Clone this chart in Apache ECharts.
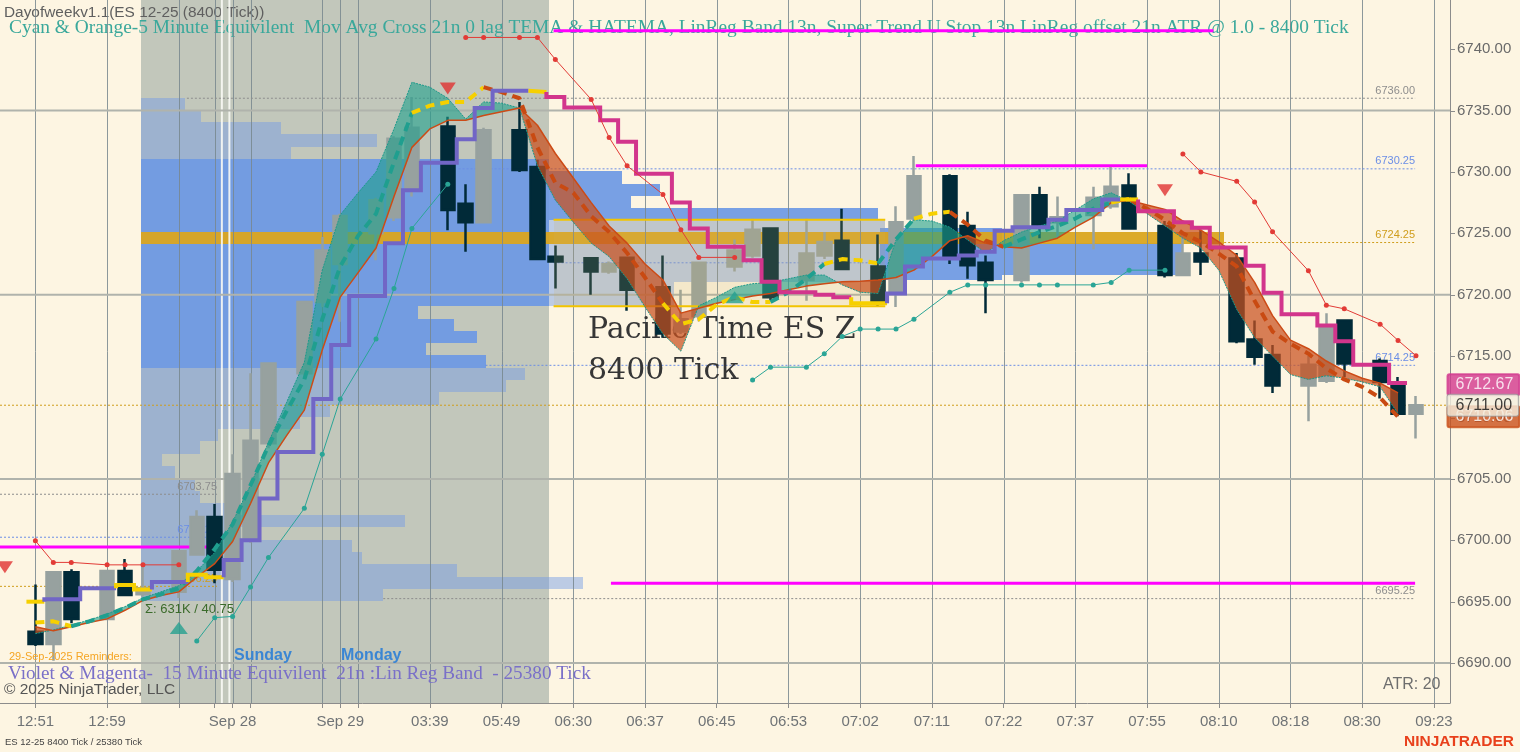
<!DOCTYPE html>
<html><head><meta charset="utf-8">
<script src="https://cdn.jsdelivr.net/npm/echarts@6/dist/echarts.min.js"></script>
<style>html,body{margin:0;padding:0;background:#fdf5e2;}#c{width:1520px;height:752px;}</style>
</head><body><div id="c"></div>
<script>
// ---------- axes ----------
const X_MIN = -1.974, X_MAX = 78.897, Y_MIN = 6686.75, Y_MAX = 6744.0;
const xTickSlots = [0,4,8,10,11,12,16,17,18,22,26,30,34,38,42,46,50,54,58,62,66,70,74,78];
const xLabelSlots = [0,4,11,17,22,26,30,34,38,42,46,50,54,58,62,66,70,74,78];
const xLabelTexts = ['12:51','12:59','Sep 28','Sep 29','03:39','05:49','06:30','06:37','06:45','06:53','07:02','07:11','07:22','07:37','07:55','08:10','08:18','08:30','09:23'];
const yTickValues = [6690,6695,6700,6705,6710,6715,6720,6725,6730,6735,6740];
const yMajorLines = [6690,6705,6720,6735];
const sessionShade = [5.89, 28.64];
const sessionBreaks = [10.4, 10.82];

// ---------- candles [slot, open, close, low, high] ----------
const candles = [
 [0,6692.55,6691.55,6691.4,6696.4],[1,6691.55,6697.4,6690.2,6697.5],[2,6697.4,6693.6,6693.25,6697.65],
 [4,6693.6,6697.5,6693.5,6697.6],[5,6697.5,6695.55,6695.5,6698.47],[6,6695.6,6696.1,6695.4,6698.1],
 [8,6695.8,6699.1,6695.3,6699.2],[9,6698.85,6701.9,6698.8,6702.45],[10,6701.9,6697.6,6696.5,6702.95],
 [11,6696.85,6705.4,6696.6,6707.0],[12,6700.0,6708.1,6699.8,6713.6],[13,6707.9,6714.4,6707.5,6714.5],
 [15,6713.6,6719.4,6713.4,6719.5],[16,6719.4,6723.6,6719.0,6724.7],[17,6722.5,6726.4,6717.8,6726.6],
 [19,6725.0,6727.7,6722.8,6727.9],[20,6726.3,6732.7,6726.0,6732.9],[21,6728.7,6733.6,6728.0,6736.1],
 [23,6733.7,6726.9,6725.25,6734.5],[24,6727.4,6725.9,6723.5,6729.0],[25,6725.9,6733.4,6725.8,6733.6],
 [27,6733.4,6730.15,6730.0,6735.7],[28,6730.4,6722.9,6722.8,6731.0],[29,6723.1,6722.7,6720.5,6724.0],
 [31,6722.96,6721.9,6720.0,6723.0],[32,6721.9,6722.5,6721.7,6722.7],[33,6723.0,6720.4,6718.7,6723.1],
 [35,6720.6,6716.85,6716.5,6723.2],[36,6717.0,6718.0,6716.8,6720.4],[37,6718.25,6722.6,6718.0,6722.7],
 [39,6722.3,6723.6,6721.9,6724.5],[40,6723.2,6725.3,6723.0,6726.2],[41,6725.4,6719.8,6719.5,6725.5],
 [43,6721.2,6723.35,6719.5,6726.2],[44,6723.2,6724.3,6722.9,6725.1],[45,6724.4,6722.1,6722.0,6727.0],
 [47,6722.3,6719.4,6719.0,6724.9],[48,6720.1,6725.9,6719.0,6727.2],[49,6726.2,6729.65,6726.0,6731.3],
 [51,6729.65,6723.0,6722.5,6729.8],[52,6725.6,6722.4,6721.3,6726.75],[53,6722.6,6721.2,6718.5,6723.2],
 [55,6721.2,6728.1,6721.0,6728.2],[56,6728.1,6725.7,6724.6,6728.8],[57,6725.9,6726.3,6724.6,6728.0],
 [59,6726.5,6727.9,6723.7,6728.8],[60,6727.2,6728.8,6727.0,6730.4],[61,6728.9,6725.4,6725.3,6729.9],
 [63,6725.6,6721.6,6721.4,6726.0],[64,6721.6,6723.35,6721.5,6725.0],[65,6723.35,6722.7,6721.6,6725.3],
 [67,6722.95,6716.2,6716.05,6723.4],[68,6716.35,6714.95,6714.3,6717.9],[69,6715.1,6712.6,6712.0,6715.9],
 [71,6712.6,6714.3,6709.7,6715.0],[72,6713.0,6717.5,6712.8,6718.5],[73,6717.9,6714.4,6713.3,6718.0],
 [75,6714.6,6712.9,6711.55,6714.8],[76,6712.8,6710.3,6710.1,6713.3],[77,6710.3,6711.0,6708.3,6711.75]
];

// ---------- Mov Avg Cross band (slots 0..76) ----------
const bandA = [6692.4,6692.7,6693.1,6693.5,6694.0,6694.6,6695.3,6695.8,6696.3,6697.5,
 6699.0,6701.5,6704.5,6708.0,6711.2,6714.5,6722.0,6726.5,6728.3,6730.0,
 6733.5,6737.3,6736.9,6736.0,6734.3,6735.7,6735.6,6735.2,6730.5,6727.7,
 6725.9,6724.2,6723.1,6721.3,6719.0,6716.8,6715.4,6719.1,6719.8,6720.6,
 6720.9,6721.0,6721.3,6721.6,6721.6,6720.8,6720.2,6720.1,6724.45,6726.1,
 6726.0,6725.5,6724.45,6723.4,6724.4,6725.1,6725.6,6726.0,6726.9,6727.8,
 6728.3,6727.6,6726.6,6725.6,6724.6,6723.8,6722.0,6718.8,6716.5,6715.0,
 6713.5,6713.1,6713.4,6713.2,6712.9,6712.5,6710.3];
const bandB = [6692.96,6692.63,6692.96,6693.3,6693.6,6694.3,6695.1,6695.5,6695.8,6697.0,
 6698.1,6699.9,6703.0,6706.3,6708.5,6710.6,6715.5,6719.8,6721.8,6723.8,
 6728.0,6732.0,6733.5,6734.2,6734.2,6734.6,6734.9,6735.2,6733.8,6731.5,
 6729.5,6727.5,6725.6,6724.2,6722.5,6721.2,6718.5,6718.9,6719.3,6719.6,
 6719.9,6720.1,6720.4,6720.7,6720.9,6721.05,6721.1,6721.2,6721.4,6722.0,
 6723.1,6724.4,6724.8,6724.2,6723.9,6723.8,6724.2,6724.6,6725.5,6726.3,
 6727.5,6727.7,6727.3,6726.95,6726.0,6725.25,6724.3,6723.2,6721.0,6718.3,
 6716.3,6715.6,6714.6,6713.8,6713.2,6712.8,6712.0];
const midLine = [6693.3,6693.4,6693.0,6693.4,6693.9,6694.5,6695.2,6695.6,6696.1,6697.5,
 6699.3,6701.3,6704.5,6707.7,6710.5,6713.1,6718.0,6722.3,6724.8,6726.6,
 6730.8,6734.8,6735.4,6735.7,6735.7,6736.9,6736.5,6736.0,6732.0,6729.1,
 6728.3,6726.4,6725.1,6723.4,6721.4,6719.3,6717.6,6718.0,6719.2,6719.8,
 6719.4,6719.4,6720.2,6721.3,6722.5,6722.9,6722.8,6722.55,6724.5,6726.2,
 6726.6,6726.75,6725.7,6724.4,6723.9,6724.5,6725.1,6725.6,6726.2,6727.0,
 6727.5,6727.8,6727.0,6726.1,6725.0,6724.3,6723.35,6722.3,6719.5,6717.0,
 6716.0,6715.2,6714.0,6713.1,6712.5,6711.6,6710.06];
// colour of each segment i -> i+1 (t teal, o orange, y yellow)
const midColors = 'yy' + 't'.repeat(19) + 'yyyy' + 'o'.repeat(10) + 'y'.repeat(6) + 'ttt' + 'yyy' + 'tt' + 'yy' + 'ooo' + 't'.repeat(6) + 'y' + 'o'.repeat(15);

// ---------- 25380 tick Lin Reg step line (slots 0..76) ----------
const lrLine = [6695.0,6695.2,6695.2,6696.1,6696.1,6696.35,6696.0,6696.6,6696.6,6697.2,
 6697.0,6698.4,6700.0,6703.4,6707.2,6707.2,6711.5,6715.9,6719.9,6719.9,
 6724.2,6728.5,6730.75,6730.75,6732.65,6735.2,6736.6,6736.6,6736.5,6736.1,
 6735.25,6735.25,6734.2,6732.45,6729.85,6729.85,6727.5,6725.4,6723.9,6723.9,
 6722.8,6721.05,6720.2,6720.2,6720.0,6719.8,6719.3,6719.3,6720.1,6722.3,
 6722.95,6722.95,6723.2,6723.5,6725.2,6725.5,6725.5,6726.1,6726.9,6726.9,
 6727.76,6727.76,6726.8,6726.8,6725.9,6725.45,6723.85,6723.85,6722.35,6720.15,
 6718.4,6718.4,6717.5,6716.2,6714.3,6714.3,6712.8];
const lrColors = 'y' + 'vvvv' + 'yy' + 'vv' + 'yy' + 'v'.repeat(17) + 'y' + 'm'.repeat(17) + 'yy' + 'v'.repeat(13) + 'y' + 'm'.repeat(15);

// ---------- trailing stops [slot, price] ----------
const redStop1 = [[0,6699.96],[1,6698.2],[2,6698.2],[4,6698.0],[5,6698.0],[6,6698.0],[8,6698.0]];
const redStop2 = [[24,6740.95],[25,6740.95],[27,6740.95],[28,6740.95],[29,6739.16],[31,6735.9],[32,6732.8],[33,6730.5],[35,6728.17],[36,6725.3],[37,6723.04],[39,6723.04]];
const redStop3 = [[64,6731.45],[65,6730.0],[67,6729.23],[68,6727.54],[69,6725.12],[71,6721.95],[72,6719.15],[73,6718.85],[75,6717.6],[76,6716.28],[77,6715.03]];
const tealStop1 = [[9,6691.8],[10,6693.7],[11,6693.8],[12,6696.2],[13,6698.6],[15,6702.6],[16,6707.0],[17,6711.5],[19,6716.4],[20,6720.5],[21,6725.4],[23,6729.0]];
const tealStop2 = [[40,6713.05],[41,6714.1],[43,6714.1],[44,6715.2],[45,6716.6],[46,6717.2],[47,6717.2],[48,6717.2],[49,6718.0],[51,6720.2],[52,6720.8],[53,6720.8],[55,6720.8],[56,6720.8],[57,6720.8],[59,6720.8],[60,6721.0],[61,6722.0],[63,6722.0]];
const sellArrows = [[-1.7,6697.8],[23,6736.8],[63,6728.5]];
const buyArrows = [[8,6692.85],[39,6719.8]];

// ---------- volume profiles: [rowLow, endSlot, kind] (row height 1 pt) ----------
const profile1Start = 5.89;
const profile1 = [[6735.05,8.34,0],[6734.05,9.24,0],[6733.05,13.70,0],[6732.05,19.05,0],[6731.05,14.26,0],
 [6730.05,28.64,1],[6729.05,28.64,1],[6728.05,28.64,1],[6727.05,28.64,1],[6726.05,28.64,1],[6725.05,28.64,1],
 [6724.05,28.64,1],[6723.05,28.64,1],[6722.05,28.64,1],[6721.05,28.64,1],[6720.05,28.64,1],[6719.05,28.64,1],
 [6718.05,21.34,1],[6717.05,23.35,1],[6716.05,24.63,1],[6715.05,21.78,1],[6714.05,25.13,1],
 [6713.05,27.31,0],[6712.05,26.25,0],[6711.05,22.51,0],[6710.05,16.43,0],[6709.05,14.76,0],[6708.05,10.18,0],
 [6707.05,9.18,0],[6706.05,7.06,0],[6705.05,7.79,0],[6704.05,8.9,0],[6703.05,9.2,0],[6702.05,11.41,0],
 [6701.05,20.61,0],[6700.05,11.47,0],[6699.05,17.66,0],[6698.05,18.2,0],[6697.05,23.51,0],[6696.05,30.54,0],[6695.05,19.39,0]];
const profile2Start = 28.64;
const profile2 = [[6729.05,32.7,1],[6728.05,34.84,1],[6727.05,33.2,1],[6726.05,47.0,1],
 [6725.05,47.4,0],[6724.05,47.4,0],[6723.05,47.4,0],[6722.05,47.4,0],[6721.05,47.4,0],[6720.05,35.6,0],[6719.07,35.6,0]];
// boxes [s0, s1, low, high, kind]
const profileBoxes = [[47.1,53.9,6721.2,6725.4,1],[53.9,64.0,6721.6,6724.2,1]];
const vaBox = [28.9,47.4,6719.07,6726.1];
const pocBand = [5.89,66.3,6724.15,6725.1];
const vaBoxLines = [[6726.1,28.9,47.4],[6719.07,28.9,47.4]];

// ---------- horizontal levels [price, s0, s1, kind, label] ----------
const levels = [[6736.00,8.45,76.95,'gray','6736.00'],[6730.25,23.6,76.95,'blue','6730.25'],[6724.25,66.3,76.95,'gold','6724.25'],
 [6714.25,25.1,76.95,'blue','6714.25'],[6695.25,19.4,76.95,'gray','6695.25'],[6703.75,X_MIN,10.13,'gray','6703.75'],
 [6700.25,X_MIN,10.13,'blue','6700.25'],[6696.25,X_MIN,10.13,'gold','6696.25'],[6711.00,X_MIN,X_MAX,'gold',''],
 [6722.6,28.9,47.4,'blue','']];
const magentaLines = [[6699.45,X_MIN,10.13],[6696.5,32.1,76.95],[6730.5,49.1,62.0],[6741.5,28.9,65.7]];
const priceTags = [[6710.06,'orange'],[6712.67,'magenta'],[6711.00,'light']];

// ---------- styles ----------
const COL = {t:'#1f9f8f', o:'#c94a12', y:'#f6d000', v:'#7166c6', m:'#d2358c'};
const profileFill = {0:'rgba(115,155,230,0.47)',1:'rgba(108,152,228,0.92)'};
const levelColor = {gray:'#8d8d8d', blue:'#6b8ee6', gold:'#cf9d1c'};
const tagStyle = {orange:{bg:'#c9501c',fg:'#fff',b:'#c9501c'}, magenta:{bg:'#d2388e',fg:'#fff',b:'#d2388e'}, light:{bg:'#f4efdf',fg:'#111',b:'#9a9a9a'}};

// ---------- build ----------
const profRects = [];
profile1.forEach(r => profRects.push([profile1Start, r[1], r[0], r[0]+1, r[2]]));
profile2.forEach(r => profRects.push([profile2Start, r[1], r[0], r[0] < 6719.5 ? 6720.05 : r[0]+1, r[2]]));
profileBoxes.forEach(b => profRects.push(b));

function rectEl(api, fill){
  const a = api.coord([api.value(0), api.value(3)]);
  const b = api.coord([api.value(1), api.value(2)]);
  const x0 = Math.round(a[0]), y0 = Math.round(a[1]), x1 = Math.round(b[0]), y1 = Math.round(b[1]);
  return {type:'rect', shape:{x:x0, y:y0, width:x1-x0, height:y1-y0}, style:{fill}};
}

function buildRuns(A, B){
  const runs = []; let cur = null;
  for (let i = 0; i < A.length; i++){
    const d = A[i]-B[i];
    if (!cur){ cur = {up:d>=0, top:[[i,A[i]]], bot:[[i,B[i]]]}; continue; }
    const dp = A[i-1]-B[i-1];
    if ((dp>=0) === (d>=0)){ cur.top.push([i,A[i]]); cur.bot.push([i,B[i]]); }
    else {
      const t = dp/(dp-d), sc = i-1+t, pc = A[i-1]+t*(A[i]-A[i-1]);
      cur.top.push([sc,pc]); cur.bot.push([sc,pc]); runs.push(cur);
      cur = {up:d>=0, top:[[sc,pc],[i,A[i]]], bot:[[sc,pc],[i,B[i]]]};
    }
  }
  runs.push(cur); return runs;
}
const bandRuns = buildRuns(bandA, bandB);

function segRuns(vals, cols){
  const runs = []; let i = 0;
  while (i < cols.length){
    let j = i; while (j+1 < cols.length && cols[j+1] === cols[i]) j++;
    const pts = []; for (let k = i; k <= j+1; k++) pts.push([k, vals[k]]);
    runs.push({c:cols[i], pts}); i = j+1;
  }
  return runs;
}
function stepRuns(vals, cols){
  const runs = []; let i = 0;
  while (i < vals.length){
    let j = i; while (j+1 < vals.length && cols[j+1] === cols[i]) j++;
    const pts = [];
    if (i > 0) pts.push([i-0.5, vals[i-1]]);
    for (let k = i; k <= j; k++){ pts.push([k-0.5, vals[k]], [k+0.5, vals[k]]); }
    runs.push({c:cols[i], pts}); i = j+1;
  }
  return runs;
}

const series = [];
series.push({type:'custom', z:1, silent:true, data:[[sessionShade[0], sessionShade[1], Y_MIN, Y_MAX]],
  renderItem:(p,api)=>rectEl(api,'#c2c7bb')});
series.push({type:'custom', z:2, silent:true, data:profRects.map(r=>r.slice(0,4)),
  renderItem:(p,api)=>rectEl(api, profileFill[profRects[p.dataIndex][4]])});
series.push({type:'custom', z:2.1, silent:true, data:[pocBand],
  renderItem:(p,api)=>rectEl(api,'rgba(218,165,32,0.95)')});
series.push({type:'custom', z:2.2, silent:true, data:xTickSlots.map(s=>[s]),
  renderItem:(p,api)=>{const a=api.coord([api.value(0),Y_MAX]), b=api.coord([api.value(0),Y_MIN]); const x=Math.round(a[0])+0.5;
    return {type:'line', shape:{x1:x,y1:a[1],x2:x,y2:b[1]}, style:{stroke:'rgba(120,135,142,0.85)', lineWidth:1}};}});
series.push({type:'custom', z:2.2, silent:true, data:sessionBreaks.map(s=>[s]),
  renderItem:(p,api)=>{const a=api.coord([api.value(0),Y_MAX]), b=api.coord([api.value(0),Y_MIN]);
    return {type:'line', shape:{x1:a[0],y1:a[1],x2:a[0],y2:b[1]}, style:{stroke:'rgba(250,250,245,0.9)', lineWidth:2}};}});
series.push({type:'custom', z:2.2, silent:true, data:yMajorLines.map(v=>[X_MIN,v]),
  renderItem:(p,api)=>{const a=api.coord([X_MIN,api.value(1)]), b=api.coord([X_MAX,api.value(1)]);
    return {type:'line', shape:{x1:a[0],y1:a[1],x2:b[0],y2:b[1]}, style:{stroke:'#b0b3ac', lineWidth:2}};}});
// price-axis tick marks (right of the axis line)
series.push({type:'custom', z:2.2, silent:true, clip:false, data:yTickValues.map(v=>[X_MAX,v]),
  renderItem:(p,api)=>{const a=api.coord([X_MAX,api.value(1)]); const y=Math.round(a[1])+0.5;
    return {type:'line', shape:{x1:a[0],y1:y,x2:a[0]+5,y2:y}, style:{stroke:'#8c8c8c', lineWidth:1}};}});
series.push({type:'custom', z:2.4, silent:true, data:levels.map(l=>[l[1],l[0]]),
  renderItem:(p,api)=>{const L=levels[p.dataIndex]; const a=api.coord([L[1],L[0]]), b=api.coord([L[2],L[0]]); const c=levelColor[L[3]];
    const ch=[{type:'line', shape:{x1:a[0],y1:a[1],x2:b[0],y2:b[1]}, style:{stroke:c, lineWidth:1, lineDash:[2,2]}}];
    if (L[4]) ch.push({type:'text', x:b[0], y:a[1]-2, style:{text:L[4], fill:c, font:'11px "Liberation Sans"', align:'right', verticalAlign:'bottom'}});
    return {type:'group', children:ch};}});
magentaLines.forEach(l => series.push({type:'line', z:2.5, silent:true, symbol:'none', data:[[l[1],l[0]],[l[2],l[0]]], lineStyle:{color:'#ff00ff', width:3}}));
series.push({type:'candlestick', z:3, silent:true, data:candles, barWidth:14,
  itemStyle:{color:'#97a19f', color0:'#012a38', borderColor:'#97a19f', borderColor0:'#012a38', borderWidth:2.5}});
series.push({type:'custom', z:3.5, silent:true, data:[vaBox],
  renderItem:(p,api)=>rectEl(api,'rgba(205,180,95,0.18)')});
vaBoxLines.forEach(l => series.push({type:'line', z:3.6, silent:true, symbol:'none', data:[[l[1],l[0]],[l[2],l[0]]], lineStyle:{color:'#f2c400', width:2}}));
series.push({type:'custom', z:4, silent:true, data:bandRuns.map(r=>[r.top[0][0], r.top[0][1]]),
  renderItem:(p,api)=>{const r=bandRuns[p.dataIndex]; const pts=r.top.concat(r.bot.slice().reverse()).map(q=>api.coord(q));
    return {type:'polygon', shape:{points:pts}, style:{fill: r.up ? 'rgba(30,160,140,0.6)' : 'rgba(200,80,30,0.72)'}};}});
series.push({type:'line', z:4.1, silent:true, symbol:'none', data:bandA.map((v,i)=>[i,v]), lineStyle:{color:'#1a9a8a', width:1, type:[2,1]}});
series.push({type:'line', z:4.1, silent:true, symbol:'none', data:bandB.map((v,i)=>[i,v]), lineStyle:{color:'#cc4b16', width:1.5}});
segRuns(midLine, midColors).forEach(r => series.push({type:'line', z:4.5, silent:true, symbol:'none', data:r.pts,
  lineStyle:{color:COL[r.c], width:4, type:[9,6], cap:'butt'}}));
stepRuns(lrLine, lrColors).forEach(r => series.push({type:'line', z:5, silent:true, symbol:'none', data:r.pts,
  lineStyle:{color:COL[r.c], width:4, join:'miter'}}));
[redStop1, redStop2, redStop3].forEach(d => series.push({type:'line', z:5.5, silent:true, data:d, symbol:'circle', symbolSize:5, showSymbol:true,
  lineStyle:{color:'#e23b36', width:1}, itemStyle:{color:'#e23b36'}}));
[tealStop1, tealStop2].forEach(d => series.push({type:'line', z:5.5, silent:true, data:d, symbol:'circle', symbolSize:5, showSymbol:true,
  lineStyle:{color:'#2aa596', width:1}, itemStyle:{color:'#2aa596'}}));
series.push({type:'scatter', z:6, silent:true, data:sellArrows, symbol:'triangle', symbolSize:[16,12], symbolRotate:180, itemStyle:{color:'#e03232'}});
series.push({type:'scatter', z:6, silent:true, data:buyArrows, symbol:'triangle', symbolSize:[18,12], itemStyle:{color:'#26a090'}});
priceTags.forEach((t,i) => { const st = tagStyle[t[1]];
  series.push({type:'scatter', z:7+i, silent:true, clip:false, data:[[X_MAX, t[0]]], symbolSize:1, itemStyle:{color:'transparent'},
    label:{show:true, position:'right', distance:-3, formatter:t[0].toFixed(2), backgroundColor:st.bg, borderColor:st.b, borderWidth:1,
      color:st.fg, fontSize:16, fontFamily:'Liberation Sans', padding:[3,6,2,8], borderRadius:2}});
});

const T = (x,y,text,font,fill,z) => ({type:'text', x, y, z, silent:true, style:{text, font, fill, verticalAlign:'middle'}});
const graphics = [
  T(4,13,'Dayofweekv1.1(ES 12-25 (8400 Tick))','15.4px "Liberation Sans"','#5f5f5f',1.5),
  T(9,28,'Cyan & Orange-5 Minute Equivilent  Mov Avg Cross 21n 0 lag TEMA & HATEMA, LinReg Band 13n, Super Trend U Stop 13n LinReg offset 21n ATR @ 1.0 - 8400 Tick','19.4px "Liberation Serif"','#3aa89b',1.5),
  T(588,330,'Pacific Time ES Z','30px "DejaVu Serif"','#363636',2.6),
  T(588,371,'8400 Tick','30px "DejaVu Serif"','#363636',2.6),
  T(145,609,'\u03a3: 631K / 40.75','13px "Liberation Sans"','#3b6b2b',6),
  T(9,657,'29-Sep-2025 Reminders:','11px "Liberation Sans"','#f5a523',6),
  T(234,656,'Sunday','bold 16px "Liberation Sans"','#3a86d4',6),
  T(341,656,'Monday','bold 16px "Liberation Sans"','#3a86d4',6),
  T(8,674,'Violet & Magenta-  15 Minute Equivilent  21n :Lin Reg Band  - 25380 Tick','19.2px "Liberation Serif"','#7a70c8',6),
  T(4,690,'\u00a9 2025 NinjaTrader, LLC','15.5px "Liberation Sans"','#555555',6),
  T(1383,685,'ATR: 20','16px "Liberation Sans"','#6e6e6e',6),
  T(5,742,'ES 12-25 8400 Tick / 25380 Tick','9.5px "Liberation Sans"','#444444',6),
  T(1404,742,'NINJATRADER','bold 15.5px "Liberation Sans"','#e8401c',6)
];

const chart = echarts.init(document.getElementById('c'), null, {width:1520, height:752});
chart.setOption({
  animation:false,
  backgroundColor:'#fdf5e2',
  grid:{left:0, right:70, top:0, bottom:49, containLabel:false},
  xAxis:{type:'value', min:X_MIN, max:X_MAX,
    axisLine:{show:true, onZero:false, lineStyle:{color:'#8c8c8c', width:1}},
    axisTick:{show:true, customValues:xTickSlots, length:5, lineStyle:{color:'#8c8c8c'}},
    axisLabel:{customValues:xLabelSlots, margin:11, color:'#6f7376', fontSize:15, fontFamily:'Liberation Sans',
      formatter:v=>{const i=xLabelSlots.indexOf(Math.round(v)); return i>=0?xLabelTexts[i]:'';}},
    splitLine:{show:false}},
  yAxis:{type:'value', position:'right', min:Y_MIN, max:Y_MAX,
    axisLine:{show:true, onZero:false, lineStyle:{color:'#8c8c8c', width:1}},
    axisTick:{show:false},
    axisLabel:{customValues:yTickValues, margin:7, color:'#6a6a6a', fontSize:15, fontFamily:'Liberation Sans', formatter:v=>v.toFixed(2)},
    splitLine:{show:false}},
  series,
  graphic:graphics
});
</script></body></html>
